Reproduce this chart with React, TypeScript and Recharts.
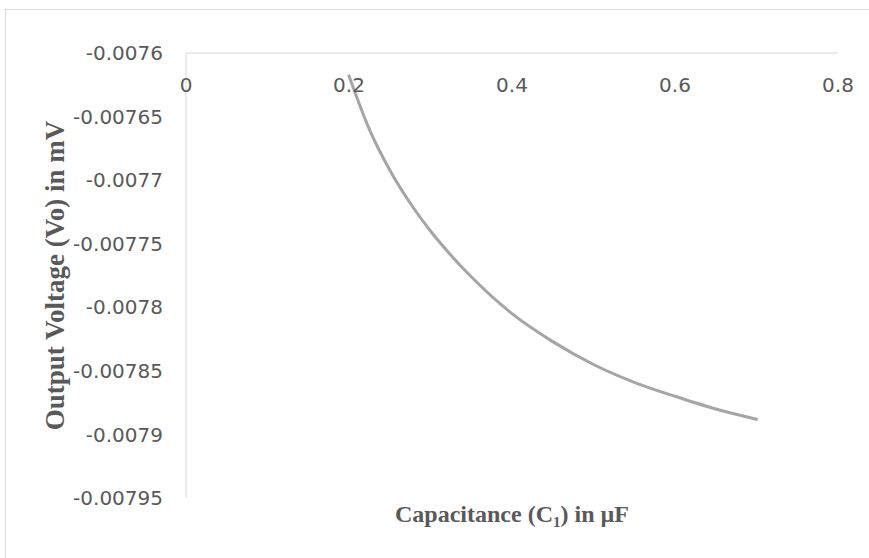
import React from 'react';
import { LineChart, Line, XAxis, YAxis, Label } from 'recharts';

// capacitance C1 (µF) and output voltage Vo (mV)
const capacitance = [0.2, 0.225, 0.25, 0.275, 0.3, 0.325, 0.35, 0.4, 0.45, 0.5, 0.55, 0.6, 0.65, 0.7];
const voltage = [
  -0.007618, -0.00766, -0.007692, -0.007718, -0.00774, -0.007759, -0.007776,
  -0.007805, -0.007827, -0.007845, -0.007859, -0.00787, -0.00788, -0.007888,
];
const xTicks = [0, 0.2, 0.4, 0.6, 0.8];
const yTicks = [-0.0076, -0.00765, -0.0077, -0.00775, -0.0078, -0.00785, -0.0079, -0.00795];

const data = capacitance.map((c, i) => ({ c, vo: voltage[i] }));

const GRAY_TEXT = '#595959';
const AXIS = '#d9d9d9';
const TICK_FONT = '"DejaVu Sans", sans-serif';
const TITLE_FONT = '"Liberation Serif", "Times New Roman", serif';

const XTick = ({ x, y, payload }: any) => (
  <text x={x} y={y + 39} textAnchor="middle" fill={GRAY_TEXT} fontSize={20} fontFamily={TICK_FONT}>
    {payload.value}
  </text>
);

const XTitle = ({ viewBox }: any) => (
  <text
    x={viewBox.x + viewBox.width / 2}
    y={viewBox.y + 24}
    textAnchor="middle"
    fill={GRAY_TEXT}
    fontSize={24}
    fontWeight="bold"
    fontFamily={TITLE_FONT}
  >
    <tspan>Capacitance (C</tspan>
    <tspan fontSize={15} dy={5}>1</tspan>
    <tspan dy={-5}>) in µF</tspan>
  </text>
);

const YTitle = ({ viewBox }: any) => {
  const cx = 64;
  const cy = viewBox.y + viewBox.height / 2;
  return (
    <text
      x={cx}
      y={cy}
      transform={`rotate(-90 ${cx} ${cy})`}
      textAnchor="middle"
      fill={GRAY_TEXT}
      fontSize={27}
      fontWeight="bold"
      fontFamily={TITLE_FONT}
    >
      Output Voltage (Vo) in mV
    </text>
  );
};

export default function App() {
  return (
    <div style={{ position: 'absolute', left: 0, top: 0, width: 869, height: 558, overflow: 'hidden', background: '#fff' }}>
      <div
        style={{
          position: 'absolute',
          left: 5,
          top: 9,
          width: 900,
          height: 600,
          border: `1px solid ${AXIS}`,
        }}
      />
      <div style={{ position: 'absolute', left: 0, top: 0 }}>
        <LineChart width={869} height={558} data={data} margin={{ top: 23, right: 31, left: 0, bottom: 0 }}>
          <XAxis
            xAxisId="top"
            dataKey="c"
            type="number"
            orientation="top"
            domain={[0, 0.8]}
            ticks={xTicks}
            height={30}
            stroke={AXIS}
            tickLine={false}
            tickSize={0}
            tickMargin={0}
            tick={<XTick />}
          />
          <XAxis
            xAxisId="bottom"
            dataKey="c"
            type="number"
            orientation="bottom"
            domain={[0, 0.8]}
            height={60}
            axisLine={false}
            tickLine={false}
            tick={false}
          >
            <Label content={<XTitle />} />
          </XAxis>
          <YAxis
            type="number"
            domain={[-0.00795, -0.0076]}
            ticks={yTicks}
            width={186}
            stroke={AXIS}
            tickLine={false}
            tickSize={0}
            tickMargin={23}
            tick={{ fill: GRAY_TEXT, fontSize: 20, fontFamily: TICK_FONT }}
            interval={0}
          >
            <Label content={<YTitle />} />
          </YAxis>
          <Line
            xAxisId="top"
            type="monotone"
            dataKey="vo"
            stroke="#a5a5a5"
            strokeWidth={3}
            strokeLinecap="round"
            dot={false}
            isAnimationActive={false}
          />
        </LineChart>
      </div>
    </div>
  );
}
